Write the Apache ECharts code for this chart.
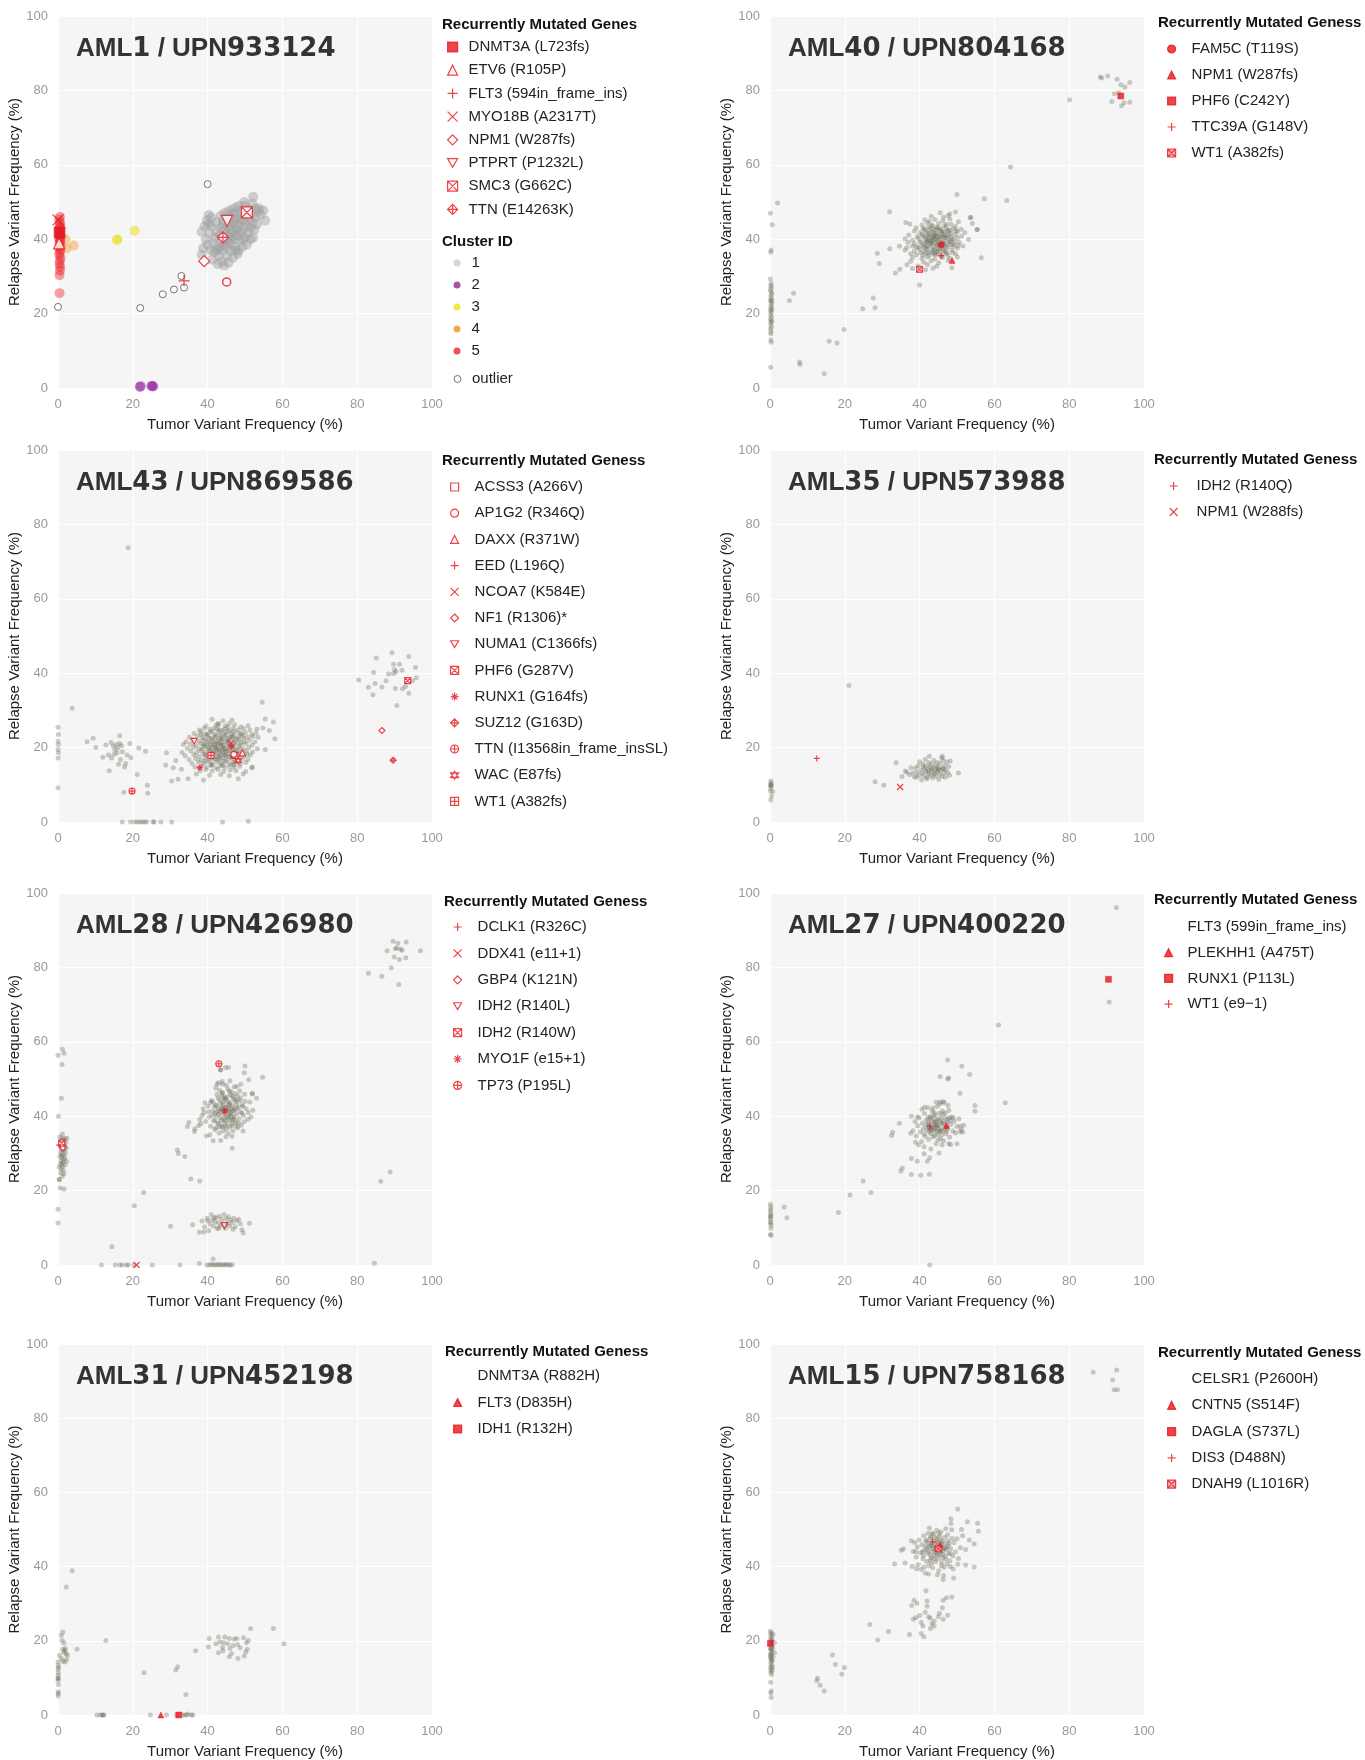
<!DOCTYPE html>
<html><head><meta charset="utf-8">
<script src="https://cdn.jsdelivr.net/npm/echarts/dist/echarts.min.js"></script>
<style>html,body{margin:0;padding:0;background:#fff}#c{width:1365px;height:1760px}</style>
</head><body><div id="c"></div>
<script>
// ---------------- DATA ----------------
const axisTicks = [0, 20, 40, 60, 80, 100];
const panelAml = ['1', '40', '43', '35', '28', '27', '31', '15'];
const panelUpn = ['933124', '804168', '869586', '573988', '426980', '400220', '452198', '758168'];
const legendHeadings = ['Recurrently Mutated Genes', 'Recurrently Mutated Geness', 'Recurrently Mutated Geness', 'Recurrently Mutated Geness',
  'Recurrently Mutated Geness', 'Recurrently Mutated Geness', 'Recurrently Mutated Geness', 'Recurrently Mutated Geness'];

// Panel 1 (AML1)
const p1Cluster1 = [[38.4,42],[38.8,37.6],[38.4,35.8],[40.3,46.5],[42.7,33.3],[44.4,32.9],[45.6,33.7],[48.3,36.9],[52.2,40.4],[52.9,48.2],[52.2,51.4],[55.4,45],[54.9,47.7],[53.5,47.5],
[39.5,40],[40,38.5],[40.5,41.5],[41,43.5],[41.5,39],[41.8,36.5],[42,40.5],[42.3,44.5],[42.5,42],[42.8,38],[43,35.5],[43.2,41],[43.5,43],[43.8,39.5],[44,37],[44.2,45],[44.5,42.5],[44.8,40],[45,38],[45.2,35.5],[45.5,43.5],[45.7,41],[46,46],[46,39],[46.2,37],[46.5,44],[46.7,42],[47,40],[47,47],[47.2,38],[47.5,45.5],[47.7,43],[48,41],[48,36],[48.2,46.5],[48.5,44],[48.7,39.5],[49,42],[49,47.5],[49.3,38],[49.5,45],[49.8,43],[50,40.5],[50.2,46.5],[50.5,44],[50.8,41.8],[51,48],[51.2,45.5],[51.5,43],[51.8,46.8],[52,44.5],[52.5,42.5],[52.8,46],[53.2,44],[53.8,48.3],[54.2,46.5],[43.5,46.3],[44.5,47],[45.5,47.5],[46.5,48],[47.5,48.5],[48.5,49],[41,45.8],[40.2,44],[39.2,43.5],[39.8,45],[40.8,37],[41.2,34.5],[43.8,34],[46.8,35],[47.5,37],[49.5,40],[50.5,38.5],[51.5,40],[44,44],[45,41.5],[46,42.5],[47,44.5],[48,42.5],[46.3,40.3],[45.3,39.3],[44.3,38.5],[43.3,37.5],[42.3,37],[48.8,45.3],[50,49],[52,49.5],[49.8,50],[47.5,41],[45.8,44.8]];
const p1Cluster2 = [[21.9,0.3],[22.1,0.5],[25.0,0.5],[25.5,0.4],[25.2,0.6]];
const p1Cluster3 = [[15.8,39.8],[15.9,39.9],[20.5,42.3]];
const p1Cluster4 = [[2.0,40.0],[2.3,37.6],[4.2,38.3]];
const p1Cluster5 = [[0.5,46],[0.3,45.2],[0.6,44.5],[0.4,43.8],[0.7,43.2],[0.3,42.6],[0.6,42],[0.4,41.4],[0.8,40.8],[0.3,40.2],[0.6,39.6],[0.4,39],[0.7,38.4],[0.3,37.8],[0.6,37.2],[0.5,36.5],[0.3,35.8],[0.7,35],[0.5,34.2],[0.4,33.3],[0.6,32.5],[0.5,31.5],[0.4,30.3],[0.4,25.5],[0.5,41],[0.5,43],[0.5,39.5]];
const p1Outliers = [[40,54.8],[33,30.1],[33.7,27],[31,26.5],[28,25.2],[22,21.5],[0,21.8]];
const p1RedOutlier = [[45.1,28.5]];
const p1Genes = ['DNMT3A (L723fs)', 'ETV6 (R105P)', 'FLT3 (594in_frame_ins)', 'MYO18B (A2317T)', 'NPM1 (W287fs)', 'PTPRT (P1232L)', 'SMC3 (G662C)', 'TTN (E14263K)'];
const p1GenePoints = [[0.4,41.8],[0.3,38.9],[33.7,28.8],[0,45.2],[39.1,34.1],[45.2,44.9],[50.5,47.2],[44.1,40.5]];
const p1ClusterNames = ['1', '2', '3', '4', '5'];

// Panel 2 (AML40)
const p2Points = [[45.5,47.1],[48.1,46.8],[49.6,47.3],[43.1,46.2],[46.4,45.9],[47.6,46.4],[53.5,45.8],[41.4,45.2],[42.6,44.8],[44.1,45.3],[46.2,44.9],[48.1,45.4],[50.4,44.7],[37.4,44.1],[40.6,43.8],[42.1,44.3],[43.4,43.7],[45.1,44.2],[46.6,43.6],[48.4,44.0],[49.6,43.5],[54.1,44.2],[39.1,43.1],[41.2,42.7],[42.4,43.2],[43.6,42.6],[44.6,43.3],[45.6,42.8],[47.1,43.1],[48.2,42.5],[49.1,42.9],[51.1,42.7],[38.6,42.2],[40.1,41.8],[41.6,42.3],[42.6,41.6],[43.4,42.1],[44.4,41.7],[45.4,42.4],[46.6,41.9],[47.4,42.2],[48.6,41.6],[50.1,42.1],[52.1,41.8],[55.4,42.6],[37.1,41.1],[39.4,40.7],[40.6,41.3],[41.4,40.6],[42.6,41.2],[43.6,40.8],[44.4,41.1],[45.6,40.6],[46.4,41.2],[47.6,40.9],[48.4,40.5],[49.6,41.2],[51.2,40.8],[36.1,40.1],[38.1,39.7],[39.6,40.2],[40.4,39.6],[41.6,40.2],[42.4,39.8],[43.6,40.3],[44.6,39.7],[45.4,40.1],[46.6,39.6],[47.4,40.2],[48.6,39.8],[50.1,40.3],[53.1,39.9],[36.9,39.2],[38.6,38.8],[40.1,39.1],[41.1,38.6],[42.1,39.3],[43.1,38.7],[44.1,39.2],[45.1,38.6],[46.1,39.3],[47.1,38.8],[48.1,39.2],[49.1,38.6],[50.6,39.1],[34.6,38.1],[36.6,37.8],[38.1,38.2],[39.6,37.7],[40.6,38.3],[41.6,37.6],[42.6,38.1],[43.6,37.8],[44.6,38.2],[45.6,37.7],[46.6,38.3],[47.6,37.9],[49.1,38.1],[50.1,37.6],[51.6,38.2],[36.1,37.1],[38.6,36.8],[40.1,37.2],[41.1,36.7],[42.1,37.3],[43.1,36.6],[44.1,37.1],[45.1,36.8],[46.1,37.3],[47.1,36.7],[48.6,37.1],[37.6,36.1],[39.1,35.8],[41.6,36.2],[42.6,35.7],[43.6,36.3],[45.1,35.9],[46.6,36.2],[47.6,35.6],[49.6,36.1],[38.1,35.1],[40.6,34.8],[42.1,35.2],[44.1,34.7],[46.1,35.1],[48.1,34.8],[50.1,35.2],[37.6,34.1],[41.1,33.8],[43.1,34.2],[45.1,33.7],[47.6,34.3],[36.6,33.1],[39.6,32.8],[42.1,33.2],[44.6,32.7],[38.1,32.1],[41.6,31.8],[43.6,32.2],[48.6,32.3],[43,39.5],[44,40],[45,39.5],[44.5,38.5],[43.5,38.9],[45.5,39.0],[42.8,40.4],[46.2,40.6],[44.2,36.1],[41.8,39.5],[47.8,41.3],
[40.8,40.9],[41.9,41.7],[42.9,39.1],[43.9,41.6],[44.9,40.7],[45.9,41.8],[46.9,40.4],[47.9,39.4],[41.3,37.9],[42.3,36.4],[43.3,39.8],[44.3,40.4],[45.3,41.3],[46.3,38.8],[47.3,36.2],[48.3,38.6],[40.2,36.3],[41.7,39.1],[42.7,42.6],[43.7,37.2],[44.7,36.6],[45.7,38.4],[46.7,40.9],[47.7,42.4],[48.9,40.1],[49.4,39.3],[43.2,43.6],[44.8,43.0],[46.0,42.3],[42.0,38.2],[39.2,38.0],[40.9,35.6],[44.0,35.8],[45.8,35.3],[47.0,37.8],[48.8,36.4],[50.3,38.3],[49.8,42.3],[44.4,42.7],[43.8,40.9],[45.0,37.4],[46.4,37.0],[42.2,40.7],[41.0,42.9],[47.2,44.0],
[5.2,23.5],[6.3,25.5],[7.9,7.0],[8.0,6.3],[14.5,3.8],[15.8,12.6],[17.9,12.1],[19.8,15.7],[24.8,21.3],[27.6,24.2],[28.1,21.6],[29.2,33.5],[28.7,36.2],[32.0,37.4],[32.0,47.4],[33.5,30.9],[34.7,31.9],[36.3,44.5],[40.0,27.7],[50.0,52.0],[57.3,50.9],[63.3,50.4],[64.3,59.4],[56.5,35.0],[55.4,42.6],[53.7,45.8],[80.1,77.5],
[88.3,83.6],[88.7,83.3],[90.3,83.9],[92.8,83.0],[93.8,81.5],[96.2,82.1],[94.9,80.9],[92.1,79.1],[93.2,79.4],[91.4,77.0],[94.0,75.9],[94.7,76.7],[96.2,76.8],
[0.1,29.3],[0.3,28.1],[0.2,27.5],[0.4,27.0],[0.1,26.4],[0.3,25.9],[0.5,25.4],[0.2,24.8],[0.4,24.2],[0.1,23.6],[0.3,23.1],[0.5,22.6],[0.2,22.0],[0.4,21.5],[0.1,20.9],[0.3,20.3],[0.2,19.7],[0.4,19.1],[0.1,18.5],[0.3,17.8],[0.2,17.2],[0.4,16.5],[0.1,15.9],[0.3,15.2],[0.2,14.6],[0.2,13.0],[0.3,12.3],[0.2,5.6],[0.2,36.5],[0.3,37.1],[0.1,47.0],[0.6,43.9],[2.0,49.7],[0.5,23.5],[0.5,21.0],[0.5,18.0]];
const p2Genes = ['FAM5C (T119S)', 'NPM1 (W287fs)', 'PHF6 (C242Y)', 'TTC39A (G148V)', 'WT1 (A382fs)'];
const p2GenePoints = [[45.8,38.5],[48.7,34.3],[93.8,78.5],[45.8,35.6],[40.0,31.9]];

// Panel 3 (AML43)
const p3Points = [[41.2,27.6],[44.1,27.2],[46.5,27.4],[42.8,26.5],
[39.6,25.8],[42.3,26.1],[44.8,25.9],[47.2,26.2],[48.9,25.6],[50.8,25.9],
[37.8,24.7],[39.1,25.2],[40.6,24.9],[41.8,25.3],[43.1,24.8],[44.5,25.1],[45.7,24.6],[46.9,25.2],[48.2,24.8],[49.6,25.1],[51.3,24.7],[53.2,25.0],
[36.4,23.8],[38.2,24.2],[39.5,23.7],[40.7,24.1],[41.9,23.6],[43.0,24.2],[44.2,23.8],[45.3,24.3],[46.4,23.7],[47.6,24.1],[48.7,23.6],[50.1,24.0],[51.8,23.5],[52.9,23.9],
[35.1,22.8],[37.3,23.1],[38.6,22.7],[39.8,23.2],[41.0,22.6],[42.2,23.1],[43.4,22.7],[44.6,23.2],[45.8,22.6],[47.0,23.1],[48.2,22.7],[49.4,23.2],[50.7,22.8],[52.1,23.0],
[34.2,21.6],[36.0,22.1],[37.7,21.8],[38.9,22.2],[40.1,21.6],[41.3,22.1],[42.5,21.7],[43.7,22.2],[44.9,21.6],[46.1,22.1],[47.3,21.7],[48.5,22.2],[49.8,21.6],[51.2,22.0],[52.6,21.5],
[33.5,20.8],[35.4,21.0],[36.9,20.6],[38.2,21.1],[39.4,20.7],[40.6,21.2],[41.8,20.6],[43.0,21.1],[44.2,20.7],[45.4,21.2],[46.6,20.6],[47.8,21.1],[49.0,20.7],[50.3,21.1],[51.9,20.6],
[34.6,19.8],[36.2,20.1],[37.6,19.7],[38.8,20.2],[40.0,19.6],[41.2,20.1],[42.4,19.7],[43.6,20.2],[44.8,19.6],[46.0,20.1],[47.2,19.7],[48.4,20.2],[49.6,19.6],[51.0,20.0],[53.3,19.7],
[33.2,18.7],[35.5,19.1],[37.0,18.6],[38.2,19.1],[39.4,18.7],[40.6,19.2],[41.8,18.6],[43.0,19.1],[44.2,18.7],[45.4,19.2],[46.6,18.6],[47.8,19.1],[49.0,18.7],[50.4,19.0],[52.0,18.8],
[34.0,17.8],[36.3,18.1],[37.7,17.6],[38.9,18.2],[40.1,17.7],[41.3,18.1],[42.5,17.6],[43.7,18.2],[44.9,17.7],[46.1,18.1],[47.3,17.6],[48.5,18.2],[49.8,17.7],[51.4,18.0],
[35.0,16.8],[36.8,17.1],[38.2,16.6],[39.4,17.2],[40.6,16.7],[41.8,17.1],[43.0,16.6],[44.2,17.2],[45.4,16.7],[46.6,17.1],[47.8,16.6],[49.2,17.0],[50.8,16.8],
[35.8,15.8],[37.5,16.1],[38.9,15.7],[40.1,16.2],[41.3,15.6],[42.5,16.1],[43.7,15.7],[44.9,16.2],[46.1,15.6],[47.3,16.1],[48.7,15.8],[50.2,16.0],
[36.6,14.8],[38.4,15.1],[39.8,14.7],[41.0,15.2],[42.2,14.6],[43.4,15.1],[44.6,14.7],[45.8,15.2],[47.0,14.7],[48.6,15.0],[52.0,14.8],
[38.0,13.8],[39.5,14.1],[41.2,13.7],[42.8,14.1],[44.3,13.6],[46.0,14.0],[47.6,13.8],[50.2,13.6],
[37.0,12.9],[40.5,12.6],[43.5,12.8],[45.8,12.4],[49.5,12.9],
[42,20],[43,19.5],[44,20.5],[45,19],[43.5,21],[42.5,18.5],[44.5,18],[41.5,21.5],[45.5,21.8],[40.5,19.8],[46.5,20.5],[43,17.5],[44,22.5],[42,22.8],[45,23.5],[41,18.8],[47,19.6],[39.5,21.9],[46.8,22.8],[43.8,19.2],
[38.6,19.6],[39.7,20.4],[40.4,22.5],[41.6,19.1],[42.7,20.9],[43.3,23.4],[44.6,19.9],[45.6,20.6],[46.3,23.0],[47.5,18.4],[48.9,21.4],[39.3,16.4],[40.9,17.3],[42.0,16.9],[43.2,18.0],[44.4,16.3],[45.7,17.6],[46.9,16.0],[48.2,17.3],[41.2,24.4],[42.6,25.0],[44.0,24.6],[45.4,25.5],[46.7,24.4],[40.0,23.5],[38.9,21.0],[49.7,22.6],[47.7,22.3],[43.9,21.6],[42.9,22.1],[45.1,22.4],[41.9,21.0],[40.8,20.6],[46.0,19.3],[47.0,21.0],[44.1,19.6],[42.4,19.9],[43.4,17.1],[45.0,18.3],[46.4,17.4],[39.4,18.1],[48.4,19.6],[41.0,15.4],[44.0,15.2],[47.2,15.3],[43.0,26.2],[45.8,26.5],[38.3,23.5],[50.5,18.3],[49.0,23.8],
[0,25.5],[0.1,23.5],[0,21.7],[0.1,20.8],[0,19.5],[0.1,18.6],[0,17.2],[0,9.2],[3.8,30.6],[18.75,73.7],
[7.8,21.6],[9.4,22.5],[10.1,20.0],[12.8,20.7],[13.7,13.8],[14.3,17.2],[15.2,19.5],[15.8,18.6],[16.5,23.2],[16.5,21.1],[17.2,18.9],[16.7,16.8],[18.1,15.7],[19.2,21.1],[19.5,17.3],[14.8,20.4],[15.6,20.8],[17.6,8.0],[21.2,12.8],[21.6,19.9],[23.4,19.0],[23.9,9.9],[24.0,7.7],[17.8,14.8],[13.5,18.0],[15.0,18.2],[16.0,19.9],[17.0,20.5],[14.2,21.4],[18.5,18.0],[16.2,15.5],[12.0,17.4],
[17.2,0],[19.4,0],[20.5,0],[21.2,0],[21.9,0],[22.5,0],[23.2,0],[23.7,0],[25.4,0],[25.7,0],[27.5,0],[30.4,0],[44.0,0],[50.9,0.2],
[80.4,38.2],[83.0,36.2],[84.2,34.2],[84.4,40.2],[84.8,37.2],[85.1,44.1],[86.6,36.3],[87.7,38.0],[88.4,39.8],[89.3,45.5],[89.7,42.4],[89.7,39.9],[90.2,35.9],[90.4,40.4],[90.6,31.3],[91.3,42.4],[92.0,40.8],[92.1,35.8],[92.9,36.4],[93.8,44.5],[93.8,34.6],[94.8,38.0],[95.6,41.5],[95.8,38.8],[90.0,41.0],
[54.6,32.2],[55.4,27.7],[57.6,26.9],[58.0,22.4],[56.5,24.6],[29.0,18.6],[28.8,15.3],[30.4,11.0],[30.8,14.6],[32.1,11.5],[34.8,11.6],[38.9,11.3],[48.2,11.6],[51.8,14.6],[55.4,19.5],[53.5,22.8],[54.8,25.3],[31.5,16.5],[33.0,14.2]];
const p3Genes = ['ACSS3 (A266V)', 'AP1G2 (R346Q)', 'DAXX (R371W)', 'EED (L196Q)', 'NCOA7 (K584E)', 'NF1 (R1306)*', 'NUMA1 (C1366fs)', 'PHF6 (G287V)', 'RUNX1 (G164fs)', 'SUZ12 (G163D)', 'TTN (I13568in_frame_insSL)', 'WAC (E87fs)', 'WT1 (A382fs)'];
const p3GenePoints = [[47.3,17.9],[47.0,18.2],[49.3,18.6],[46.3,20.2],[46.2,21.2],[86.6,24.6],[36.4,21.7],[93.5,38.0],[37.9,14.6],[89.6,16.6],[19.8,8.3],[48.2,16.5],[40.9,17.9]];

// Panel 4 (AML35)
const p4Points = [[38.2,13.2],[38.6,12.1],[38.9,14.5],[39.3,13.4],[39.6,15.1],[39.8,12.6],[40.0,16.2],[40.3,14.0],[40.5,11.3],[40.7,13.1],[40.9,15.6],[41.1,12.4],[41.3,14.4],[41.5,16.9],[41.6,13.6],[41.8,15.0],[42.0,12.0],[42.2,14.1],[42.4,16.0],[42.5,13.0],[42.6,17.7],[42.8,14.8],[43.0,12.5],[43.1,15.6],[43.3,13.7],[43.5,11.8],[43.6,14.5],[43.8,16.5],[44.0,13.2],[44.2,15.2],[44.4,12.3],[44.5,14.0],[44.7,16.0],[44.9,13.5],[45.1,11.4],[45.2,14.7],[45.4,12.8],[45.5,15.8],[45.7,13.9],[45.9,17.3],[46.0,12.2],[46.2,14.4],[46.3,16.6],[46.5,13.1],[46.7,15.2],[46.9,12.0],[47.0,14.0],[47.3,16.1],[47.5,13.3],[47.8,14.9],[48.2,16.4],[48.0,12.6],[41.0,14.9],[43.2,14.2],[44.6,14.6],[42.3,13.5],[45.0,14.1],[46.4,14.3],[43.9,12.9],[41.9,11.6],[39.2,12.0],[46.1,17.7],
[28.1,10.8],[30.4,9.9],[33.7,15.9],[35.3,12.2],[36.2,13.7],[36.6,13.4],[37.7,14.6],[37.3,12.7],[50.4,13.2],[21.1,36.7],
[0.2,11],[0.1,10.1],[0.3,9.7],[0.2,9.2],[0.1,8.3],[0.4,7.0],[0.2,5.9],[0.7,8.2],[0.4,10.5],[0.3,9.9]];
const p4Genes = ['IDH2 (R140Q)', 'NPM1 (W288fs)'];
const p4GenePoints = [[12.5,17.1],[34.8,9.4]];

// Panel 5 (AML28)
const p5Points = [[39.0,40.9],[39.5,38.6],[40.1,42.7],[40.4,39.8],[40.8,37.3],[41.0,44.2],[41.3,41.3],[41.6,38.7],[41.9,36.4],[42.1,43.0],[42.3,40.2],[42.5,45.8],[42.7,38.0],[42.9,42.0],[43.1,35.5],[43.2,44.3],[43.4,39.6],[43.6,41.8],[43.8,37.2],[43.9,46.4],[44.1,43.1],[44.3,40.5],[44.4,38.4],[44.6,45.0],[44.8,42.3],[45.0,36.6],[45.1,40.0],[45.3,44.0],[45.4,47.3],[45.6,41.5],[45.8,38.9],[45.9,43.2],[46.1,45.8],[46.3,40.7],[46.4,37.5],[46.6,42.8],[46.8,44.9],[46.9,39.4],[47.1,47.9],[47.3,41.9],[47.5,43.9],[47.6,38.2],[47.8,40.6],[48.0,45.5],[48.2,42.5],[48.4,39.3],[48.6,44.1],[48.8,41.2],[49.0,37.6],[49.3,43.0],[49.6,40.2],[49.9,45.9],[50.3,42.0],[50.8,39.2],[51.3,43.8],[51.9,46.2],[40.6,35.0],[39.7,34.7],[38.5,40.2],[38.2,38.0],[37.6,37.5],[36.6,36.6],[37.9,39.1],[43.5,33.5],[41.5,33.4],[42.9,49.0],[44.0,48.6],[44.8,53.1],[43.4,52.5],[48.9,48.6],[46.3,46.6],[47.4,46.1],[45.0,48.3],[46.0,49.5],[42.2,47.6],[44.2,36.0],[45.5,35.4],[46.8,36.0],[48.1,36.9],[49.8,38.5],[50.9,41.0],[51.6,39.8],[52.1,41.6],[42.0,39.0],[43.0,40.5],[44.0,41.5],[45.0,42.5],[46.0,41.0],[47.0,40.0],[44.5,39.5],[43.5,43.5],[45.5,43.0],[46.5,39.0],[44.2,42.0],[45.7,40.3],[46.8,41.6],[43.0,38.2],[47.9,42.0],[42.5,41.3],[44.8,44.5],[45.2,38.0],[43.8,45.5],[47.2,44.5],[41.8,42.5],[49.2,40.8],[46.0,37.0],[44.0,37.2],[42.2,36.8],[41.2,40.2],[40.2,41.2],[48.6,46.8],[50.0,44.0],[45.8,46.8],[43.2,47.0],[39.3,43.6],[38.8,42.0],[40.8,43.6],[47.6,37.2],[49.5,36.0],[46.5,34.6],[44.9,34.5],
[42.4,42.9],[43.3,41.1],[44.2,43.8],[45.1,41.4],[46.0,43.7],[46.9,41.4],[47.7,43.1],[43.7,39.0],[44.6,40.9],[45.5,39.5],[46.4,42.2],[47.3,39.0],[42.8,44.9],[44.0,46.2],[45.2,45.2],[46.6,45.4],[47.9,44.4],[43.1,37.1],[44.9,37.3],[46.6,38.1],[48.3,38.2],[42.0,40.8],[41.4,43.9],[49.4,42.6],[48.8,44.9],[44.4,44.8],[45.6,42.0],[43.8,42.5],[46.2,40.0],[44.7,38.9],
[37.8,8.8],[38.5,11.8],[39.2,10.2],[39.9,12.6],[40.3,9.2],[40.6,11.0],[41.0,13.5],[41.3,12.1],[41.6,10.4],[42.0,11.6],[42.3,12.8],[42.6,9.8],[42.9,11.3],[43.2,13.1],[43.5,10.6],[43.8,12.2],[44.1,11.0],[44.4,13.6],[44.7,9.9],[45.0,12.4],[45.3,11.2],[45.6,13.0],[45.9,10.5],[46.2,12.0],[46.6,11.4],[47.0,12.6],[47.4,10.3],[47.8,11.8],[48.3,12.3],[48.8,11.1],[49.2,9.5],[49.5,8.6],[40.0,11.9],[41.8,12.8],[43.0,9.9],[44.9,10.9],[46.8,9.6],[51.2,11.2],[36.0,10.8],[30.1,10.4],[39.0,8.9],
[11.6,0],[15.3,0],[16.5,0],[17.2,0],[18.3,0],[18.8,0],[20.3,0],[25.2,0],[32.6,0],[37.8,0.4],[39.8,0],[40.5,0],[41.0,0.2],[41.5,0],[42.0,0.1],[42.5,0],[43.0,0.2],[43.5,0],[44.0,0.1],[44.5,0],[45.0,0.2],[45.5,0],[46.0,0],[46.6,0.1],[41.5,1.6],[84.6,0.5],
[0.5,34.5],[1.2,35.2],[1.8,34.0],[2.4,34.1],[0.8,33.3],[1.5,33.6],[2.1,33.0],[0.6,32.2],[1.3,32.5],[1.9,31.9],[0.9,31.2],[1.6,30.9],[2.2,31.4],[0.7,30.3],[1.4,29.8],[2.0,30.1],[0.5,29.2],[1.1,28.8],[1.8,29.0],[0.8,28.0],[1.5,27.7],[2.3,27.9],[0.6,27.1],[1.2,26.6],[1.9,26.9],[0.9,25.9],[1.4,25.5],[0.7,24.8],[1.2,23.9],[0.4,23.0],[1.0,27.3],[1.6,28.4],[0.9,29.6],[1.3,31.0],[1.7,32.1],[1.1,34.0],[0.3,26.3],[1.6,24.5],
[0,56.4],[1.2,58],[1.6,56.9],[1.1,53.9],[0.9,44.8],[0.1,40],[0,15],[0,11.3],[0.3,23],[0.6,20.7],[1.6,20.4],
[14.4,4.9],[20.4,15.9],[22.9,19.5],[31.9,30.9],[32.2,30.0],[33.9,29.2],[35.5,23.1],[37.9,22.6],[34.6,37.2],[35.0,38.3],[36.5,35.9],[46.6,31.4],[54.7,50.5],[53.1,44.8],[50.0,53.5],[49.8,51.7],[51.0,49.8],[52.0,46.0],[43.5,52.4],[45.6,53.1],[43.9,49.3],[42.5,48.6],[47.8,48.0],
[83.0,78.4],[86.6,77.6],[88.0,84.5],[89.1,79.9],[89.6,87.0],[89.9,82.8],[90.2,85.0],[90.9,86.5],[91.1,75.4],[91.3,82.1],[92.0,84.6],[91.6,84.9],[93.1,86.8],[93.0,82.6],[96.9,84.5],[90.6,85.2],[88.8,25.0],[86.3,22.5]];
const p5Genes = ['DCLK1 (R326C)', 'DDX41 (e11+1)', 'GBP4 (K121N)', 'IDH2 (R140L)', 'IDH2 (R140W)', 'MYO1F (e15+1)', 'TP73 (P195L)'];
const p5GenePoints = [[0.3,32.2],[21.0,0],[1.3,31.5],[44.5,10.6],[1.0,32.8],[44.6,41.4],[43.0,54.1]];

// Panel 6 (AML27)
const p6Points = [[38.2,36.1],[38.8,38.6],[39.1,34.7],[39.5,37.4],[39.9,39.6],[40.2,35.8],[40.5,33.2],[40.7,38.1],[41.0,36.6],[41.3,40.7],[41.5,34.6],[41.8,38.9],[42.0,36.2],[42.2,42.3],[42.4,33.8],[42.6,37.8],[42.8,39.9],[43.0,35.3],[43.2,37.0],[43.4,41.4],[43.6,34.4],[43.8,38.5],[44.0,36.1],[44.2,40.3],[44.4,32.6],[44.6,37.6],[44.8,35.1],[45.0,39.2],[45.2,36.7],[45.4,43.3],[45.6,34.0],[45.8,38.2],[46.0,36.0],[46.2,40.6],[46.4,33.4],[46.6,37.3],[46.8,39.5],[47.0,35.3],[47.3,38.4],[47.5,36.6],[47.8,41.5],[48.0,34.4],[48.3,37.8],[48.6,39.8],[48.9,36.0],[49.2,38.6],[49.6,35.5],[50.0,37.2],[50.5,39.3],[51.2,36.4],[51.8,37.6],[50.8,35.8],[45.5,43.8],[44.7,42.6],[46.6,43.6],[47.6,42.9],[43.5,42.2],[40.6,41.9],[39.4,39.8],[37.6,35.4],[38.9,33.0],[39.7,32.3],[41.2,31.8],[43.0,31.2],[46.0,32.3],[47.8,32.6],[48.3,32.4],[50.0,32.6],[49.0,39.5],[48.0,39.6],[43.2,38.8],[44.2,38.0],[45.2,37.5],[43.8,36.6],[44.6,39.0],[45.6,36.2],[42.6,35.8],[46.4,38.6],[43.0,39.5],[45.9,35.0],[44.9,33.6],[42.3,37.1],[47.2,37.1],[41.2,35.2],[46.9,40.8],[44.0,34.8],[45.3,40.8],[42.9,36.4],[44.4,36.9],
[42.3,38.4],[43.3,36.2],[44.3,38.5],[45.3,35.8],[46.3,38.0],[47.2,35.9],[43.7,39.9],[44.7,36.0],[45.7,39.6],[46.7,36.5],[42.6,36.9],[43.6,37.5],[44.5,37.4],[45.5,38.6],[41.7,37.6],[48.1,38.8],[43.9,40.9],[46.1,41.4],[42.2,39.6],[47.5,39.2],
[18.3,14.1],[21.4,18.8],[24.9,22.6],[27.0,19.5],[35.0,25.3],[35.4,26.1],[32.5,34.8],[32.8,35.7],[34.6,38.1],[37.8,40.0],[37.8,24.3],[40.3,24.1],[42.6,24.4],[37.8,28.6],[39.4,27.9],[41.2,29.9],[42.1,27.9],[42.7,28.8],[42.7,0],[45.5,50.7],[47.5,55.1],[47.5,50.0],[47.8,50.3],[50.8,46.2],[51.3,53.4],[53.4,51.2],[54.8,42.9],[54.8,41.3],[61.1,64.5],[62.9,43.6],[90.7,70.7],[92.6,96.1],[41.3,42.4],[44.4,43.8],[46.3,43.9],[45.2,30.1],[50.9,37.3],[51.5,35.7],
[0.1,16.3],[0.2,15.6],[0.1,14.3],[0.3,13.6],[0.1,12.9],[0.2,12.3],[0.1,11.6],[0.3,10.7],[0.2,9.8],[0.1,8.2],[0.3,8.0],[0.2,14.9],[0.1,13.2],[0.2,11.2],[3.8,15.6],[4.5,12.7]];
const p6Genes = ['FLT3 (599in_frame_ins)', 'PLEKHH1 (A475T)', 'RUNX1 (P113L)', 'WT1 (e9\u22121)'];
const p6GenePoints = [null,[47.2,37.5],[90.5,76.8],[42.7,37.3]];

// Panel 7 (AML31)
const p7Points = [[0,14.3],[0.1,13.4],[0,12.3],[0.1,11.4],[0,10.7],[0.1,10.0],[0,9.4],[0.1,8.2],[0,6.3],[0.1,5.8],[0,5.1],[0.1,12.8],[0,9.8],
[0.9,21.5],[1.3,22.4],[1.1,20.1],[1.6,19.4],[1.3,17.7],[1.8,17.4],[2.2,16.5],[2.5,16.1],[1.6,16.9],[0.9,15.2],[1.3,14.5],[1.9,14.3],[0.4,16.1],[2.2,34.5],[3.8,38.9],[5.1,17.7],[12.8,20.1],[2.3,15.0],[2.0,17.9],
[10.4,0],[11.3,0],[11.8,0],[12.1,0],[12.3,0],[24.7,0],[29.0,0],[31.7,0],[33.3,0],[33.9,0],[34.4,0],[35.7,0],[36.0,0],[34.8,0.3],
[23.0,11.4],[31.5,12.1],[32.0,13.0],[34.2,5.5],[36.8,17.3],
[40.4,20.6],[40.2,18.3],[42.2,19.2],[42.9,21.0],[43.3,19.7],[42.9,16.8],[44.0,18.2],[44.1,17.3],[44.6,21.0],[45.4,19.2],[45.8,20.6],[46.0,17.9],[45.8,15.7],[46.4,16.6],[47.1,20.4],[47.8,20.6],[48.0,19.0],[48.1,15.2],[48.7,18.1],[49.6,20.8],[50.2,17.0],[49.8,15.9],[50.4,19.5],[50.6,17.7],[50.9,20.1],[51.5,23.3],[57.6,23.3],[60.4,19.2],[44.3,19.5],[46.8,18.7]];
const p7Genes = ['DNMT3A (R882H)', 'FLT3 (D835H)', 'IDH1 (R132H)'];
const p7GenePoints = [null,[27.5,0],[32.3,0]];

// Panel 8 (AML15)
const p8Points = [[38.3,44.1],[38.7,46.5],[39.1,42.6],[39.4,45.3],[39.6,40.5],[39.9,47.2],[40.2,43.7],[40.4,39.2],[40.6,45.9],[40.9,42.1],[41.1,48.3],[41.3,44.5],[41.5,38.3],[41.7,46.8],[41.9,41.4],[42.1,43.6],[42.3,49.0],[42.5,40.2],[42.7,45.4],[42.9,47.7],[43.1,42.4],[43.3,44.1],[43.5,39.7],[43.7,48.8],[43.9,43.0],[44.1,46.1],[44.3,41.3],[44.5,44.6],[44.7,47.6],[44.9,42.1],[45.1,38.9],[45.3,45.6],[45.5,43.3],[45.7,49.4],[45.9,41.1],[46.1,46.9],[46.3,44.2],[46.5,39.8],[46.7,47.9],[46.9,42.7],[47.1,45.2],[47.3,40.7],[47.5,48.6],[47.7,43.5],[47.9,46.2],[48.1,41.6],[48.3,44.8],[48.6,49.9],[48.9,42.9],[49.2,46.4],[49.6,44.0],[50.0,47.5],[50.4,42.2],[50.9,45.1],[51.5,48.3],[52.3,44.6],[42.0,45.0],[43.0,46.0],[44.0,45.0],[45.0,46.5],[46.0,45.0],[44.5,43.5],[43.5,44.8],[45.6,44.2],[46.6,46.2],[42.8,43.2],[47.6,47.0],[44.2,47.8],[41.8,47.2],[43.2,41.0],[45.8,40.2],[40.8,44.0],[48.2,40.0],[41.2,39.8],[39.2,39.4],[38.0,40.0],[37.8,47.0],[42.4,38.0],[44.8,37.8],[46.4,37.6],[49.0,39.4],[50.2,40.6],[44.6,49.8],[42.6,50.4],[47.0,50.2],[48.4,51.6],[43.4,48.9],[45.4,48.2],[39.0,44.0],
[42.2,44.3],[43.2,45.6],[44.2,44.0],[45.2,45.3],[46.2,43.3],[47.2,44.6],[43.6,46.9],[44.6,46.6],[45.6,47.1],[46.6,44.8],[42.5,46.4],[41.6,45.6],[47.6,45.6],[44.9,43.1],[43.9,42.1],[46.1,42.4],[48.2,43.5],[45.1,48.9],[43.0,48.0],[41.0,43.0],[44.4,45.4],[45.9,45.9],[47.0,42.0],[42.8,41.8],[48.7,47.6],
[37.9,29.5],[38.5,30.9],[39.3,30.1],[38.3,25.8],[39.0,26.2],[40.0,26.8],[40.4,24.9],[40.4,22.0],[41.1,21.1],[40.9,24.0],[41.5,27.7],[41.7,33.5],[42.0,30.7],[42.0,29.3],[42.4,26.5],[42.9,26.1],[42.9,23.3],[43.3,24.6],[43.9,25.3],[45.0,26.5],[45.3,27.4],[46.3,25.8],[47.5,26.9],[46.3,30.9],[47.2,31.6],[48.6,31.8],[46.1,28.9],[43.9,24.0],
[12.5,9.2],[12.7,9.9],[13.4,8.0],[14.5,6.5],[16.7,16.2],[17.5,13.6],[19.2,11.0],[19.9,12.8],[26.7,24.4],[28.8,20.2],[31.7,22.5],[33.3,40.7],[35.1,44.4],[35.7,44.8],[36.1,41.0],[37.3,21.7],[86.4,92.4],[91.6,90.3],[92.0,87.7],[92.9,87.7],[92.7,93.0],[50.2,55.5],[48.4,52.9],[52.8,52.1],[55.5,51.7],[55.7,49.5],[54.6,46.1],[52.3,40.4],[54.6,39.9],[49.1,36.9],[46.3,36.5],[51.2,50.0],[53.3,47.2],
[0.1,22.6],[0.3,22.1],[0.2,21.5],[0.5,21.0],[0.1,20.4],[0.4,19.9],[0.2,19.0],[0.6,18.5],[0.1,18.0],[0.3,17.5],[0.5,17.0],[0.2,16.5],[0.4,16.0],[0.1,15.5],[0.3,15.0],[0.6,14.5],[0.2,14.0],[0.4,13.4],[0.1,12.8],[0.3,12.2],[0.2,11.5],[0.4,10.9],[0.2,8.8],[0.3,6.5],[0.2,5.9],[0.3,4.7],[1.2,19.5],[1.2,16.8],[0.8,21.8],[0.7,18.0],[0.8,15.6],[0.7,13.0],[0.5,20.2],[0.2,17.8],[0.4,14.8],[0.1,16.2],[0.6,12.0]];
const p8Genes = ['CELSR1 (P2600H)', 'CNTN5 (S514F)', 'DAGLA (S737L)', 'DIS3 (D488N)', 'DNAH9 (L1016R)'];
const p8GenePoints = [null,[45.5,45.9],[0.1,19.3],[43.5,46.7],[45.0,44.8]];

// ---------------- STYLE ----------------
const FONT = '"Liberation Sans", Helvetica, Arial, sans-serif';
const RED = '#e8141c';
const SYM = {
  circle: 'circle', rect: 'rect', tri: 'triangle', diamond: 'diamond',
  plus: 'path://M0,5L10,5M5,0L5,10',
  cross: 'path://M0,0L10,10M10,0L0,10',
  star: 'path://M0,5L10,5M5,0L5,10M1.5,1.5L8.5,8.5M8.5,1.5L1.5,8.5',
  tridown: 'path://M0,0L10,0L5,8.66Z',
  boxx: 'path://M0,0L10,0L10,10L0,10ZM0,0L10,10M10,0L0,10',
  boxplus: 'path://M0,0L10,0L10,10L0,10ZM0,5L10,5M5,0L5,10',
  diaplus: 'path://M5,0L10,5L5,10L0,5ZM0,5L10,5M5,0L5,10',
  circplus: 'path://M0,5A5,5,0,1,0,10,5A5,5,0,1,0,0,5ZM0,5L10,5M5,0L5,10',
  david: 'path://M5,0L10,8L0,8ZM5,10L0,2L10,2Z'
};
const geneStyles = [
  [['rect','fill'],['tri','hollow'],['plus','line'],['cross','line'],['diamond','hollow'],['tridown','hollow'],['boxx','hollow'],['diaplus','hollow']],
  [['circle','fill'],['tri','fill'],['rect','fill'],['plus','line'],['boxx','pink']],
  [['rect','hollow'],['circle','hollow'],['tri','hollow'],['plus','line'],['cross','line'],['diamond','hollow'],['tridown','hollow'],['boxx','hollow'],['star','line'],['diaplus','hollow'],['circplus','hollow'],['david','hollow'],['boxplus','hollow']],
  [['plus','line'],['cross','line']],
  [['plus','line'],['cross','line'],['diamond','hollow'],['tridown','hollow'],['boxx','hollow'],['star','line'],['circplus','hollow']],
  [['circle','none'],['tri','fill'],['rect','fill'],['plus','line']],
  [['circle','none'],['tri','fill'],['rect','fill']],
  [['circle','none'],['tri','fill'],['rect','fill'],['plus','line'],['boxx','pink']]
];
const allGenes = [p1Genes,p2Genes,p3Genes,p4Genes,p5Genes,p6Genes,p7Genes,p8Genes];
const allGenePoints = [p1GenePoints,p2GenePoints,p3GenePoints,p4GenePoints,p5GenePoints,p6GenePoints,p7GenePoints,p8GenePoints];
const allBgPoints = [null,p2Points,p3Points,p4Points,p5Points,p6Points,p7Points,p8Points];

const colLeft = [58, 770], rowTop = [16, 450, 893, 1344], GW = 374, GH = 372;
// legend layout per panel: [left, top, itemGap, textPad, icon]
const legendLayout = [[447,38.5,6.2,6,10],[1167,40.5,9,11,8],[450,478.5,9.2,11,8],[1169,477.5,9,14,8],[453,918.5,9.4,11,8],[1164,918.5,8.7,10,8],[453,1367.5,9.5,11,8],[1167,1370.5,9.3,11,8]];
const headPos = [[442,17],[1158,15],[442,453],[1154,452],[444,894],[1154,892],[445,1344],[1158,1345]];

function kindStyle(kind) {
  if (kind === 'fill') return {color: RED, borderColor: RED, borderWidth: 0.5};
  if (kind === 'hollow') return {color: '#fff', borderColor: RED, borderWidth: 1.2};
  if (kind === 'pink') return {color: '#f3a0a3', borderColor: RED, borderWidth: 1};
  if (kind === 'none') return {color: 'rgba(0,0,0,0)', borderColor: 'rgba(0,0,0,0)', borderWidth: 0};
  return {color: RED, borderColor: RED, borderWidth: 1.2};
}
const zw = i => '\u200b'.repeat(i);

const grids = [], xAxes = [], yAxes = [], series = [], legends = [], titles = [];
for (let i = 0; i < 8; i++) {
  const left = colLeft[i % 2], top = rowTop[Math.floor(i / 2)];
  grids.push({left, top, width: GW, height: GH, show: true, backgroundColor: '#f5f5f5', borderWidth: 0});
  xAxes.push({gridIndex: i, type: 'value', min: axisTicks[0], max: axisTicks[axisTicks.length-1], interval: axisTicks[1]-axisTicks[0],
    name: 'Tumor Variant Frequency (%)', nameLocation: 'middle', nameGap: 29,
    nameTextStyle: {fontSize: 15, color: '#222', fontFamily: FONT},
    axisLine: {show: false}, axisTick: {show: false},
    axisLabel: {color: '#999', fontSize: 13, margin: 10, fontFamily: FONT},
    splitLine: {show: true, lineStyle: {color: '#ffffff', width: 1}}});
  yAxes.push({gridIndex: i, type: 'value', min: axisTicks[0], max: axisTicks[axisTicks.length-1], interval: axisTicks[1]-axisTicks[0],
    name: 'Relapse Variant Frequency (%)', nameLocation: 'middle', nameGap: 32,
    nameTextStyle: {fontSize: 15, color: '#222', fontFamily: FONT},
    axisLine: {show: false}, axisTick: {show: false},
    axisLabel: {color: '#999', fontSize: 13, margin: 10, fontFamily: FONT},
    splitLine: {show: true, lineStyle: {color: '#ffffff', width: 1}}});
  titles.push({text: '{a|AML}{b|' + panelAml[i] + '}{a| / UPN}{b|' + panelUpn[i] + '}',
    left: left + 18, top: top + 20, padding: 0,
    textStyle: {rich: {
      a: {fontSize: 26, fontWeight: 'bold', color: '#333', fontFamily: FONT},
      b: {fontSize: 26, fontWeight: 'bold', color: '#333', fontFamily: '"DejaVu Sans", sans-serif'}}}});
  titles.push({text: legendHeadings[i], left: headPos[i][0], top: headPos[i][1], padding: 0,
    textStyle: {fontSize: 15, fontWeight: 'bold', color: '#111', fontFamily: FONT}});

  if (allBgPoints[i]) {
    series.push({type: 'scatter', xAxisIndex: i, yAxisIndex: i, data: allBgPoints[i], symbolSize: 5,
      itemStyle: {color: 'rgba(100,100,80,0.4)'}, silent: true, z: 2, animation: false});
  }
  const genes = allGenes[i], pts = allGenePoints[i];
  const legendData = [];
  genes.forEach((g, k) => {
    const [sym, kind] = geneStyles[i][k];
    const name = g + zw(i);
    series.push({type: 'scatter', name, xAxisIndex: i, yAxisIndex: i, data: pts[k] ? [pts[k]] : [],
      symbol: SYM[sym], symbolSize: i === 0 ? 11 : 6, itemStyle: kindStyle(kind), z: 6, animation: false});
    legendData.push(kind === 'none' ? {name, itemStyle: {color: 'rgba(0,0,0,0)', borderColor: 'rgba(0,0,0,0)', borderWidth: 0}} : {name});
  });
  const L = legendLayout[i];
  legends.push({orient: 'vertical', left: L[0], top: L[1], itemGap: L[2], itemWidth: L[4], itemHeight: L[4], padding: 0,
    selectedMode: false, data: legendData, itemStyle: {borderWidth: 1.2},
    textStyle: {fontSize: 15, color: '#222', fontFamily: FONT, lineHeight: 17, padding: [0, 0, 0, L[3]]}});
}

// Panel 1 clusters
const clusterData = [p1Cluster1, p1Cluster2, p1Cluster3, p1Cluster4, p1Cluster5];
const clusterPlotColor = ['rgba(160,160,160,0.6)','rgba(150,40,160,0.65)','rgba(235,225,50,0.75)','rgba(246,170,80,0.65)','rgba(235,40,45,0.55)'];
const clusterLegendColor = ['#cccccc','#8e2c92','#ede21c','#f39422','#e8262b'];
clusterData.forEach((d, k) => {
  series.push({type: 'scatter', name: p1ClusterNames[k], xAxisIndex: 0, yAxisIndex: 0, data: d, symbolSize: 10,
    itemStyle: {color: clusterPlotColor[k]}, z: 3, animation: false});
});
series.push({type: 'scatter', name: 'outlier', xAxisIndex: 0, yAxisIndex: 0, data: p1Outliers, symbolSize: 7,
  itemStyle: {color: 'rgba(255,255,255,0.7)', borderColor: '#555', borderWidth: 1}, z: 3, animation: false});
series.push({type: 'scatter', xAxisIndex: 0, yAxisIndex: 0, data: p1RedOutlier, symbolSize: 8,
  itemStyle: {color: 'rgba(255,255,255,0.8)', borderColor: RED, borderWidth: 1.5}, z: 4, animation: false, silent: true});
titles.push({text: 'Cluster ID', left: 442, top: 234, padding: 0, textStyle: {fontSize: 15, fontWeight: 'bold', color: '#111', fontFamily: FONT}});
legends.push({orient: 'vertical', left: 453.5, top: 254.5, itemGap: 5, itemWidth: 7, itemHeight: 7, padding: 0, selectedMode: false,
  data: p1ClusterNames.map((n, k) => ({name: n, itemStyle: {color: clusterLegendColor[k], borderWidth: 0}})),
  textStyle: {fontSize: 15, color: '#222', fontFamily: FONT, lineHeight: 17, padding: [0, 0, 0, 6]}});
legends.push({orient: 'vertical', left: 453.5, top: 370.5, itemWidth: 7, itemHeight: 7, padding: 0, selectedMode: false,
  data: [{name: 'outlier', itemStyle: {color: '#fff', borderColor: '#555', borderWidth: 1}}],
  textStyle: {fontSize: 15, color: '#222', fontFamily: FONT, lineHeight: 17, padding: [0, 0, 0, 6]}});

const chart = echarts.init(document.getElementById('c'), null, {renderer: 'canvas'});
chart.setOption({animation: false, backgroundColor: '#fff', grid: grids, xAxis: xAxes, yAxis: yAxes,
  title: titles, legend: legends, series});
</script></body></html>
